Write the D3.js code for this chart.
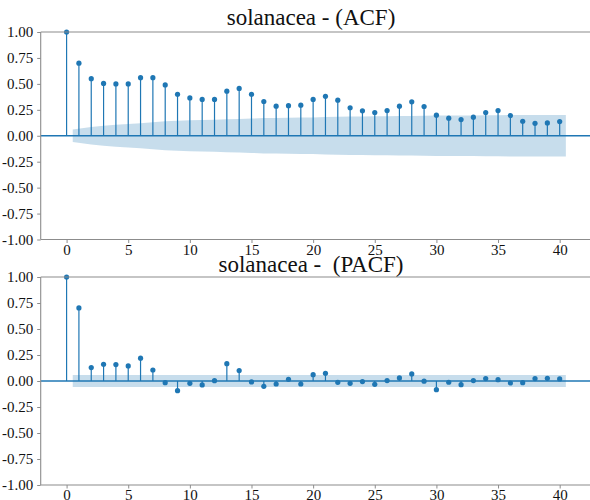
<!DOCTYPE html>
<html>
<head>
<meta charset="utf-8">
<script src="https://cdn.jsdelivr.net/npm/d3@7"></script>
<style>
  html, body { margin: 0; padding: 0; background: #fff; }
  svg { display: block; }
  svg text { font-family: "Liberation Serif", "Times New Roman", serif !important; fill: #111; }
</style>
</head>
<body>
<svg id="chart" width="590" height="500"></svg>
<script>
// ---- data ----
const lags = d3.range(0, 41);
const acfValues = [1.00, 0.70, 0.55, 0.504, 0.50, 0.50, 0.56, 0.56, 0.49, 0.40,
  0.365, 0.35, 0.35, 0.43, 0.456, 0.40, 0.33, 0.285, 0.29, 0.295,
  0.35, 0.38, 0.343, 0.27, 0.24, 0.224, 0.243, 0.285, 0.327, 0.282,
  0.198, 0.169, 0.156, 0.179, 0.224, 0.243, 0.195, 0.14, 0.12, 0.124, 0.137];
// confidence band half-widths for lags 1..40 (read from the shaded area)
const acfBand = [0.060, 0.084, 0.097, 0.106, 0.114, 0.121, 0.130, 0.139, 0.145, 0.149,
  0.152, 0.155, 0.158, 0.162, 0.166, 0.170, 0.172, 0.174, 0.176, 0.177,
  0.180, 0.183, 0.185, 0.186, 0.188, 0.188, 0.190, 0.191, 0.193, 0.195,
  0.195, 0.196, 0.196, 0.197, 0.198, 0.199, 0.200, 0.200, 0.200, 0.200];
const pacfValues = [1.00, 0.703, 0.129, 0.161, 0.158, 0.145, 0.219, 0.106, -0.016, -0.093,
  -0.022, -0.038, 0.003, 0.167, 0.10, -0.009, -0.051, -0.029, 0.016, -0.029,
  0.061, 0.074, -0.013, -0.022, -0.006, -0.032, 0.004, 0.03, 0.068, -0.002,
  -0.083, -0.012, -0.035, 0.004, 0.023, 0.013, -0.019, -0.016, 0.023, 0.026, 0.02];
const pacfBand = lags.slice(1).map(() => 0.058);
const yTicks = [1.00, 0.75, 0.50, 0.25, 0.00, -0.25, -0.50, -0.75, -1.00];
const xTicks = [0, 5, 10, 15, 20, 25, 30, 35, 40];
const titles = ["solanacea - (ACF)", "solanacea -  (PACF)"];

// ---- drawing ----
const svg = d3.select("#chart");
const blue = "#1f77b4";
const spine = "#8c8c8c";
const x = d3.scaleLinear().domain([-2.1, 42.5]).range([40.7, 590.5]);

function panel(values, band, top, bottom, title, titleY) {
  const g = svg.append("g");
  const y = d3.scaleLinear().domain([-1, 1]).range([bottom, top]);

  // band
  const bandPts = band.map((h, i) => ({ lag: lags[i + 1], h }));
  bandPts[0] = { lag: bandPts[0].lag - 0.5, h: bandPts[0].h };
  const last = bandPts.length - 1;
  bandPts[last] = { lag: bandPts[last].lag + 0.5, h: bandPts[last].h };
  g.append("path")
    .datum(bandPts)
    .attr("d", d3.area().x(d => x(d.lag)).y0(d => y(-d.h)).y1(d => y(d.h)))
    .attr("fill", blue).attr("fill-opacity", 0.25);

  // stems
  g.selectAll("line.stem").data(values).join("line")
    .attr("class", "stem")
    .attr("x1", (d, i) => x(lags[i])).attr("x2", (d, i) => x(lags[i]))
    .attr("y1", y(0)).attr("y2", d => y(d))
    .attr("stroke", blue).attr("stroke-width", 1.2);

  // zero line
  g.append("line")
    .attr("x1", x.range()[0]).attr("x2", x.range()[1])
    .attr("y1", y(0)).attr("y2", y(0))
    .attr("stroke", blue).attr("stroke-width", 1.6);

  // markers
  g.selectAll("circle").data(values).join("circle")
    .attr("cx", (d, i) => x(lags[i])).attr("cy", d => y(d))
    .attr("r", 2.6).attr("fill", blue);

  // axes
  const yAxis = d3.axisLeft(y).tickValues(yTicks).tickSize(3.5).tickPadding(4)
    .tickFormat(d => d3.format(".2f")(d).replace("−", "-"));
  const ya = g.append("g").attr("transform", `translate(${x.range()[0]},0)`).call(yAxis);
  const xAxis = d3.axisBottom(x).tickValues(xTicks).tickSize(3.5).tickPadding(1);
  const xa = g.append("g").attr("transform", `translate(0,${bottom})`).call(xAxis);
  [ya, xa].forEach(a => {
    a.attr("font-family", null);
    a.select(".domain").attr("stroke", spine).attr("stroke-width", 1.1);
    a.selectAll(".tick line").attr("stroke", spine);
    a.selectAll("text")
      .style("font-family", "'Liberation Serif', 'Times New Roman', serif")
      .style("font-size", "15px").attr("fill", "#111");
  });
  xa.select(".domain").attr("d", `M${x.range()[0]},0H${x.range()[1]}`);
  ya.select(".domain").attr("d", `M0,${bottom}V${top}`);

  // top spine
  g.append("line")
    .attr("x1", x.range()[0]).attr("x2", x.range()[1])
    .attr("y1", top).attr("y2", top)
    .attr("stroke", spine).attr("stroke-width", 1.1);

  // title
  g.append("text")
    .attr("x", 311).attr("y", titleY)
    .attr("text-anchor", "middle")
    .style("font-size", "23px")
    .style("white-space", "pre")
    .text(title);
}

panel(acfValues, acfBand, 32, 239.5, titles[0], 25);
panel(pacfValues, pacfBand, 277, 485, titles[1], 272);
</script>
</body>
</html>
